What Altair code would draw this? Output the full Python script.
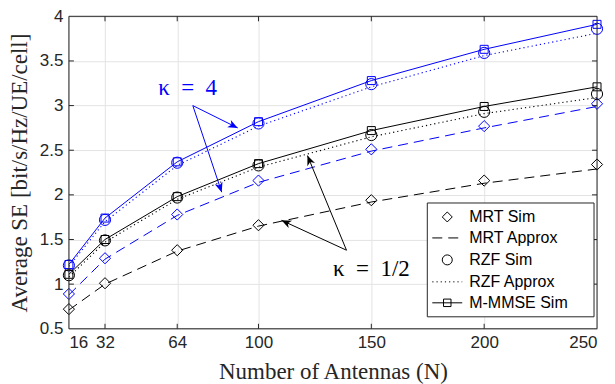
import math
import altair as alt
import pandas as pd

# ---------------- data ----------------
N = [16, 32, 64, 100, 150, 200, 250]

mmse_k4 = [1.22, 1.74, 2.37, 2.82, 3.28, 3.63, 3.91]
rzf_sim_k4 = [1.21, 1.72, 2.36, 2.80, 3.24, 3.59, 3.86]
rzf_apx_k4 = [1.20, 1.70, 2.33, 2.77, 3.21, 3.56, 3.81]
mrt_sim_k4 = [0.89, 1.29, 1.78, 2.16, 2.51, 2.77, 3.02]
mrt_apx_k4 = [0.88, 1.28, 1.77, 2.14, 2.49, 2.75, 2.99]

mmse_k05 = [1.11, 1.50, 1.98, 2.35, 2.72, 2.99, 3.21]
rzf_sim_k05 = [1.10, 1.49, 1.97, 2.33, 2.67, 2.93, 3.13]
rzf_apx_k05 = [1.08, 1.47, 1.95, 2.31, 2.65, 2.91, 3.09]
mrt_sim_k05 = [0.72, 1.01, 1.38, 1.66, 1.94, 2.16, 2.34]
mrt_apx_k05 = [0.71, 1.00, 1.37, 1.65, 1.92, 2.13, 2.29]

x_ticks = [16, 32, 64, 100, 150, 200, 250]
y_ticks = [0.5, 1, 1.5, 2, 2.5, 3, 3.5, 4]

legend_labels = ["MRT Sim", "MRT Approx", "RZF Sim", "RZF Approx", "M-MMSE Sim"]

# annotations (data coordinates)
k4_label = ("\u03ba\u2002=\u20024", 68.6, 3.20)
k4_origin = (70.9, 3.00)
k4_tips = [(90.8, 2.75), (83.7, 2.03)]
k05_label = ("\u03ba\u2002=\u20021/2", 150.0, 1.17)
k05_origin = (139.0, 1.38)
k05_tips = [(121.7, 2.44), (110.2, 1.715)]

# ---------------- styling ----------------
W, H = 529, 313
X_DOM = [16, 250]
Y_DOM = [0.5, 4]
BLUE = "#0000ff"
BLACK = "#000000"
AX = "#262626"
SANS = "Liberation Sans"
SERIF = "Liberation Serif"

xs = alt.Scale(domain=X_DOM, nice=False, zero=False)
ys = alt.Scale(domain=Y_DOM, nice=False, zero=False)

x_axis = alt.Axis(
    values=x_ticks, title="Number of Antennas (N)", grid=True, ticks=False,
    domain=False, labelFont=SANS, labelFontSize=17, labelColor=AX,
    labelPadding=6, titleFont=SERIF, titleFontSize=23, titleFontWeight="normal",
    titleColor=AX, titlePadding=10, gridColor="#e3e3e3", gridWidth=1)
y_axis = alt.Axis(
    values=y_ticks, title="Average SE [bit/s/Hz/UE/cell]", grid=True, ticks=False,
    domain=False, labelFont=SANS, labelFontSize=17, labelColor=AX,
    labelPadding=6, labelExpr="datum.value + ''", titleFont=SERIF,
    titleFontSize=23, titleFontWeight="normal", titleColor=AX, titlePadding=8,
    gridColor="#e3e3e3", gridWidth=1)


def XX(field):
    return alt.X(f"{field}:Q", scale=xs, axis=x_axis)


def YY(field):
    return alt.Y(f"{field}:Q", scale=ys, axis=y_axis)


layers = []

# inward ticks
xt = pd.DataFrame({"N": x_ticks[1:-1]})
yt = pd.DataFrame({"v": y_ticks[1:-1]})
for y0, y1 in [(H, H - 5), (0, 5)]:
    layers.append(alt.Chart(xt).mark_rule(color=AX, strokeWidth=1).encode(
        x=XX("N"), y=alt.value(y0), y2=alt.value(y1)))
for x0, x1 in [(0, 5), (W, W - 5)]:
    layers.append(alt.Chart(yt).mark_rule(color=AX, strokeWidth=1).encode(
        y=YY("v"), x=alt.value(x0), x2=alt.value(x1)))


def enc(ch):
    return ch.encode(x=XX("N"), y=YY("v"))


def df(vals):
    return pd.DataFrame({"N": N, "v": vals})


groups = [
    (BLUE, mmse_k4, rzf_sim_k4, rzf_apx_k4, mrt_sim_k4, mrt_apx_k4),
    (BLACK, mmse_k05, rzf_sim_k05, rzf_apx_k05, mrt_sim_k05, mrt_apx_k05),
]

for col, mm, rs, ra, ms, ma in groups:
    layers.append(enc(alt.Chart(df(ma)).mark_line(color=col, strokeWidth=1,
                                                  strokeDash=[10, 6])))
    layers.append(enc(alt.Chart(df(ra)).mark_line(color=col, strokeWidth=1.1,
                                                  strokeDash=[1.2, 3])))
    layers.append(enc(alt.Chart(df(mm)).mark_line(color=col, strokeWidth=1)))

for col, mm, rs, ra, ms, ma in groups:
    layers.append(enc(alt.Chart(df(ms)).mark_point(
        shape="diamond", size=125, filled=False, color=col, strokeWidth=1, opacity=1)))
    layers.append(enc(alt.Chart(df(rs)).mark_point(
        shape="circle", size=125, filled=False, color=col, strokeWidth=1, opacity=1)))
    layers.append(enc(alt.Chart(df(mm)).mark_point(
        shape="square", size=64, filled=False, color=col, strokeWidth=1, opacity=1)))

# ---------------- annotations ----------------
ARROW = "M0,0 L-0.42,1 L0,0.72 L0.42,1 Z"
pxN = W / (X_DOM[1] - X_DOM[0])
pxV = H / (Y_DOM[1] - Y_DOM[0])

for col, (txt, tx, ty), (ox, oy), tips in [
    (BLUE, k4_label, k4_origin, k4_tips),
    (BLACK, k05_label, k05_origin, k05_tips),
]:
    rows = []
    for (ex, ey) in tips:
        dx = (ex - ox) * pxN
        dy = -(ey - oy) * pxV
        ang = math.degrees(math.atan2(dx, -dy)) % 360
        rows.append({"N": ox, "v": oy, "N2": ex, "v2": ey, "ang": ang})
    adf = pd.DataFrame(rows)
    layers.append(alt.Chart(adf).mark_rule(color=col, strokeWidth=1).encode(
        x=XX("N"), y=YY("v"), x2="N2:Q", y2="v2:Q"))
    layers.append(alt.Chart(adf).mark_point(
        shape=ARROW, size=380, filled=True, color=col, opacity=1, strokeWidth=0).encode(
        x=XX("N2"), y=YY("v2"), angle=alt.Angle("ang:Q", scale=None)))
    tdf = pd.DataFrame({"N": [tx], "v": [ty], "t": [txt]})
    layers.append(alt.Chart(tdf).mark_text(
        font=SERIF, fontSize=23, color=col, align="center", baseline="middle").encode(
        x=XX("N"), y=YY("v"), text="t:N"))

# frame drawn above the grid
one = pd.DataFrame({"a": [0]})
layers.append(alt.Chart(one).mark_rect(fillOpacity=0, stroke=AX, strokeWidth=1).encode(
    x=alt.value(0), x2=alt.value(W), y=alt.value(0), y2=alt.value(H)))

# ---------------- legend (manual) ----------------
LX0, LX1, LY0, LY1 = 359, 526, 187, 301
rows_y = [201, 222, 244, 266, 287]
SYM_X, LINE0, LINE1, TXT_X = 379, 364, 394, 401

layers.append(alt.Chart(one).mark_rect(fill="white", stroke=AX, strokeWidth=1).encode(
    x=alt.value(LX0), x2=alt.value(LX1), y=alt.value(LY0), y2=alt.value(LY1)))

legend_style = [
    ("diamond", None),
    (None, [10, 6]),
    ("circle", None),
    (None, [1.2, 3]),
    ("square", []),
]
for lab, ry, (shape, dash) in zip(legend_labels, rows_y, legend_style):
    if dash is not None:
        kw = {"strokeDash": dash} if dash else {}
        layers.append(alt.Chart(one).mark_rule(color=BLACK, strokeWidth=1, **kw).encode(
            x=alt.value(LINE0), x2=alt.value(LINE1), y=alt.value(ry)))
    if shape is not None:
        sz = 56 if shape == "square" else 100
        layers.append(alt.Chart(one).mark_point(
            shape=shape, size=sz, filled=False, color=BLACK, strokeWidth=1,
            opacity=1).encode(x=alt.value(SYM_X), y=alt.value(ry)))
    layers.append(alt.Chart(one).mark_text(
        text=lab, font=SANS, fontSize=16, color=BLACK, align="left",
        baseline="middle").encode(x=alt.value(TXT_X), y=alt.value(ry)))

chart = alt.layer(*layers).properties(
    width=W, height=H,
    autosize=alt.AutoSizeParams(type="none"),
    padding={"left": 61, "top": 8, "right": 10, "bottom": 55},
).configure_view(stroke=AX, strokeWidth=1).configure(background="white")

chart.save("out.html", embed_options={"renderer": "svg", "actions": False})
